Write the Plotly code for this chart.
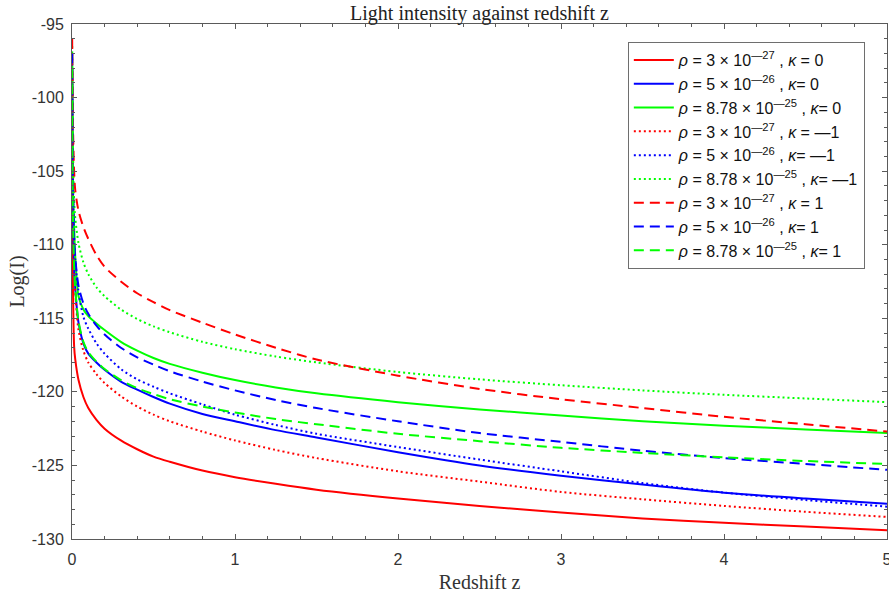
import plotly.graph_objects as go

z = [0.001, 0.003, 0.006, 0.013, 0.02, 0.04, 0.07, 0.1, 0.15, 0.2, 0.3, 0.4, 0.5, 0.6, 0.8,
     1.0, 1.25, 1.5, 2.0, 2.5, 3.0, 3.5, 4.0, 4.5, 5.0]

red_k0 = [-98, -108, -113, -116.9, -117.8, -119.2, -120.35, -121.1, -121.9, -122.5, -123.3, -123.9,
          -124.4, -124.75, -125.35, -125.8, -126.25, -126.65, -127.25, -127.75, -128.2, -128.6,
          -128.9, -129.15, -129.4]
blue_k0 = [-98, -104, -108, -111.5, -113, -115.3, -116.7, -117.4, -118.0, -118.5, -119.3, -119.85,
           -120.35, -120.8, -121.5, -122.0, -122.6, -123.1, -124.1, -125.0, -125.7, -126.3,
           -126.85, -127.25, -127.6]
green_k0 = [-97, -103, -106.5, -108.8, -110.8, -113.5, -114.4, -114.85, -115.35, -115.8, -116.6,
            -117.2, -117.7, -118.1, -118.7, -119.2, -119.7, -120.1, -120.7, -121.2, -121.6, -122.0,
            -122.3, -122.55, -122.8]
red_km1 = [-97, -104, -108, -111.5, -113.2, -115.8, -117.2, -118.0, -118.8, -119.4, -120.3, -121.0,
           -121.55, -122.0, -122.7, -123.3, -123.95, -124.5, -125.4, -126.1, -126.8, -127.3,
           -127.75, -128.15, -128.5]
blue_km1 = [-97, -102, -106, -109.5, -111, -113.2, -114.9, -115.7, -116.7, -117.4, -118.45, -119.15,
            -119.65, -120.1, -120.85, -121.55, -122.25, -122.85, -123.75, -124.6, -125.4, -126.2,
            -126.85, -127.35, -127.8]
green_km1 = [-96.5, -100, -103.5, -107.0, -108.2, -109.9, -111.2, -112.0, -112.9, -113.5, -114.4,
             -115.05, -115.55, -115.95, -116.6, -117.1, -117.6, -118.0, -118.65, -119.15, -119.55,
             -119.9, -120.2, -120.45, -120.7]
red_k1 = [-96, -99, -102, -105, -106.3, -107.7, -108.8, -109.6, -110.7, -111.5, -112.5, -113.3,
          -113.9, -114.45, -115.3, -116.1, -117.0, -117.8, -118.9, -119.8, -120.5, -121.1, -121.7,
          -122.2, -122.7]
blue_k1 = [-97, -102, -106, -109.5, -110.9, -112.8, -114.0, -114.7, -115.5, -116.1, -117.0, -117.65,
           -118.15, -118.6, -119.3, -119.9, -120.55, -121.1, -122.0, -122.8, -123.4, -124.0, -124.5,
           -124.9, -125.3]
green_k1 = [-98, -104, -108, -111.5, -113, -115.2, -116.6, -117.3, -117.95, -118.45, -119.2, -119.75,
            -120.15, -120.5, -121.0, -121.4, -121.85, -122.2, -122.85, -123.35, -123.8, -124.15,
            -124.45, -124.7, -124.9]

names = [
    "<i>ρ</i> = 3 × 10<sup>—27</sup> , <i>κ</i> = 0",
    "<i>ρ</i> = 5 × 10<sup>—26</sup> , <i>κ</i>= 0",
    "<i>ρ</i> = 8.78 × 10<sup>—25</sup> , <i>κ</i>= 0",
    "<i>ρ</i> = 3 × 10<sup>—27</sup> , <i>κ</i> = —1",
    "<i>ρ</i> = 5 × 10<sup>—26</sup> , <i>κ</i>= —1",
    "<i>ρ</i> = 8.78 × 10<sup>—25</sup> , <i>κ</i>= —1",
    "<i>ρ</i> = 3 × 10<sup>—27</sup> , <i>κ</i> = 1",
    "<i>ρ</i> = 5 × 10<sup>—26</sup> , <i>κ</i>= 1",
    "<i>ρ</i> = 8.78 × 10<sup>—25</sup> , <i>κ</i>= 1",
]
series = [red_k0, blue_k0, green_k0, red_km1, blue_km1, green_km1, red_k1, blue_k1, green_k1]
colors = ["#ff0000", "#0000ff", "#00ff00"] * 3
dashes = ["solid"] * 3 + ["2px,3px"] * 3 + ["10px,6px"] * 3

fig = go.Figure()
for nm, ys, c, d in zip(names, series, colors, dashes):
    fig.add_trace(go.Scatter(x=z, y=ys, mode="lines", name=nm,
                             line=dict(color=c, width=2, dash=d, shape="spline", smoothing=0.8)))

yt = [-130, -125, -120, -115, -110, -105, -100, -95]
xt = [0, 1, 2, 3, 4, 5]
axis_common = dict(showline=True, linecolor="#5a5a5a", linewidth=1, mirror="ticks",
                   ticks="inside", ticklen=5, tickcolor="#5a5a5a", showgrid=False, zeroline=False,
                   automargin=False, ticklabeloverflow="allow",
                   tickfont=dict(family="Liberation Sans, Arial", size=16, color="#333333"))
serif = "Liberation Serif, Times New Roman"

fig.update_layout(
    width=889, height=597,
    margin=dict(l=72, r=2, t=24, b=58),
    paper_bgcolor="white", plot_bgcolor="white",
    title=dict(text="Light intensity against redshift z", x=0.5394, xanchor="center",
               yref="container", y=0.978, yanchor="middle", automargin=False,
               font=dict(family=serif, size=20, color="#222222")),
    xaxis=dict(range=[0, 5], tickvals=xt, ticktext=[str(v) for v in xt],
               minor=dict(ticks="inside", ticklen=3, tickcolor="#5a5a5a", dtick=0.2),
               ticklabelstandoff=6,
               title=dict(text="Redshift z", standoff=7,
                          font=dict(family=serif, size=20, color="#333333")),
               **axis_common),
    yaxis=dict(range=[-130, -95], tickvals=yt, ticktext=[str(v) for v in yt],
               minor=dict(ticks="inside", ticklen=3, tickcolor="#5a5a5a", dtick=1),
               ticklabelstandoff=4,
               title=dict(text="Log(I)", standoff=1,
                          font=dict(family=serif, size=20, color="#333333")),
               **axis_common),
    legend=dict(x=0.682, y=0.965, xanchor="left", yanchor="top",
                bgcolor="white", bordercolor="#6e6e6e", borderwidth=1,
                font=dict(family="Liberation Sans, Arial", size=16, color="#111111"),
                tracegroupgap=0, itemwidth=40),
    showlegend=True,
)

fig.write_html("out.html", config={"displayModeBar": False},
               post_script="document.body.style.margin='0';document.body.style.padding='0';")
